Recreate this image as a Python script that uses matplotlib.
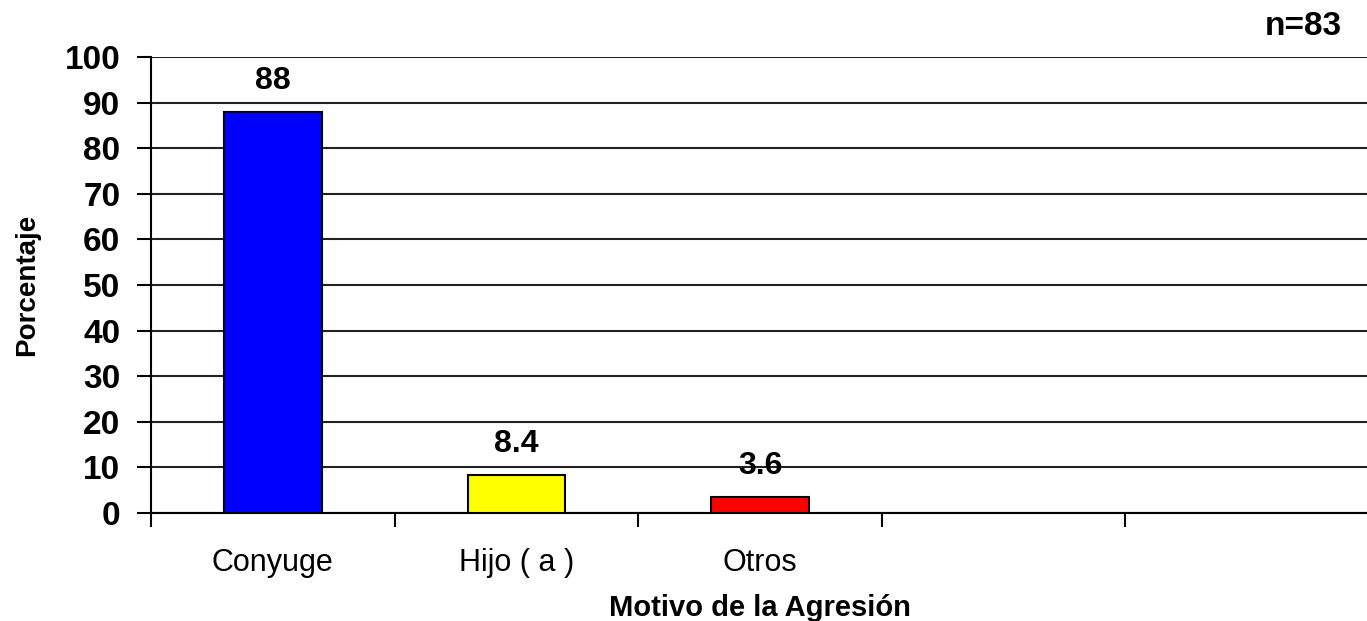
import numpy as np
import matplotlib
matplotlib.use("Agg")
import matplotlib.pyplot as plt
from matplotlib.ticker import FixedLocator, NullFormatter

plt.rcParams['font.family'] = ['Liberation Sans', 'DejaVu Sans']

# Data
categories = ['Conyuge', 'Hijo ( a )', 'Otros', '', '']
values = [88, 8.4, 3.6]
value_labels = ['88', '8.4', '3.6']
bar_colors = ['#0000FF', '#FFFF00', '#FF0000']
y_ticks = [0, 10, 20, 30, 40, 50, 60, 70, 80, 90, 100]

fig = plt.figure(figsize=(13.67, 6.21), dpi=100)
ax = fig.add_axes([151 / 1367, 1 - 513 / 621, (1369 - 151) / 1367, (513 - 57) / 621])

x = np.arange(len(values))
bars = ax.bar(x, values, width=0.4, color=bar_colors, edgecolor='black', linewidth=1.5, zorder=3)

for b, lab in zip(bars, value_labels):
    ax.annotate(lab, (b.get_x() + b.get_width() / 2, b.get_height()),
                xytext=(0, 11), textcoords='offset points', ha='center', va='bottom',
                fontsize=23, fontweight='bold')

ax.set_xlim(-0.5, len(categories) - 0.5)
ax.set_ylim(0, 100)

# gridlines at every y tick
ax.set_yticks(y_ticks)
ax.yaxis.grid(True, color='#222222', linewidth=1.5, zorder=0)
ax.tick_params(axis='y', direction='out', length=10, width=1.5, pad=12, labelsize=24)
for t in ax.get_yticklabels():
    t.set_fontweight('bold')

# x ticks at slot boundaries, labels centered in slots
ax.xaxis.set_major_locator(FixedLocator(np.arange(len(categories)) - 0.5))
ax.xaxis.set_major_formatter(NullFormatter())
ax.xaxis.set_minor_locator(FixedLocator(np.arange(len(categories))))
ax.set_xticklabels(categories, minor=True)
ax.tick_params(axis='x', which='major', direction='out', length=10, width=1.5)
ax.tick_params(axis='x', which='minor', length=0, pad=25, labelsize=22)

for s in ['top', 'right']:
    ax.spines[s].set_visible(False)
for s in ['left', 'bottom']:
    ax.spines[s].set_linewidth(1.5)
    ax.spines[s].set_color('black')

ax.set_xlabel('Motivo de la Agresión', fontsize=21, fontweight='bold', labelpad=12)
ax.set_ylabel('Porcentaje', fontsize=20, fontweight='bold', labelpad=18)

fig.text(1342 / 1367, 1 - 11 / 621, 'n=83', ha='right', va='top', fontsize=24, fontweight='bold')

fig.savefig('out.png', dpi=100)
